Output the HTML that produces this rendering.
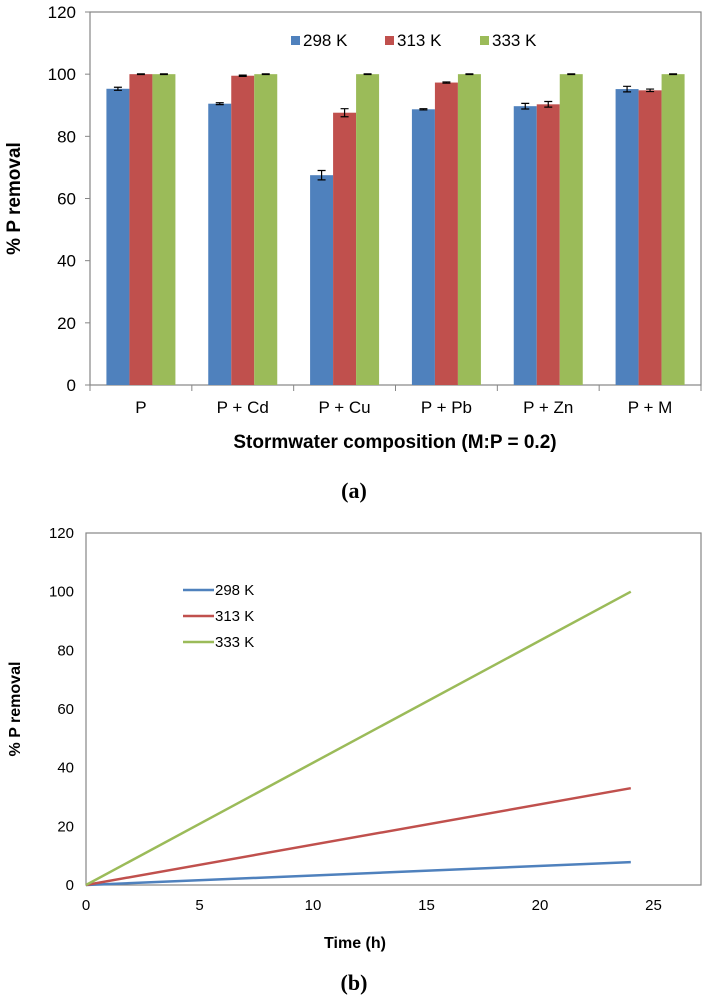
<!DOCTYPE html>
<html><head><meta charset="utf-8"><style>
body{margin:0;background:#fff;}
svg{display:block;font-family:"Liberation Sans",Arial,sans-serif;}
</style></head><body>
<svg id="s" width="708" height="1000" viewBox="0 0 708 1000">
<g id="ga"></g>
<g id="gb"></g>
<text x="354" y="498" text-anchor="middle" font-family="Liberation Serif" font-weight="bold" font-size="22">(a)</text>
<text x="354" y="990" text-anchor="middle" font-family="Liberation Serif" font-weight="bold" font-size="22">(b)</text>
</svg>
<script>
const categories=["P","P + Cd","P + Cu","P + Pb","P + Zn","P + M"];
const seriesNames=["298 K","313 K","333 K"];
const v298=[95.3,90.5,67.5,88.7,89.7,95.2];
const v313=[100,99.5,87.6,97.3,90.3,94.8];
const v333=[100,100,100,100,100,100];
const e298=[0.5,0.3,1.5,0.2,0.9,0.9];
const e313=[0.1,0.2,1.3,0.2,0.9,0.4];
const e333=[0.1,0.1,0.1,0.1,0.1,0.1];
const yTicksA=[0,20,40,60,80,100,120];
const colors=["#4f81bd","#c0504d","#9bbb59"];
const timeB=[0,24];
const b298=[0,7.8];
const b313=[0,33];
const b333=[0,100];
const xTicksB=[0,5,10,15,20,25];
const yTicksB=[0,20,40,60,80,100,120];

const NS="http://www.w3.org/2000/svg";
function mk(parent,tag,attrs,text){const e=document.createElementNS(NS,tag);for(const k in attrs)e.setAttribute(k,attrs[k]);if(text!==undefined)e.textContent=text;parent.appendChild(e);return e;}

// Chart A
const ga=document.getElementById('ga');
const aL=90,aR=701,aT=12,aB=385;
const yA=v=>aB-(v/120)*(aB-aT);
const cw=(aR-aL)/categories.length;
let r=mk(ga,'rect',{x:aL,y:aT,width:aR-aL,height:aB-aT,fill:'none',stroke:'#868686','stroke-width':1.2});

yTicksA.forEach(t=>{
 let l=mk(ga,'line',{x1:aL-5,x2:aL,y1:yA(t),y2:yA(t),stroke:'#868686'});
 
 let tx=mk(ga,'text',{x:aL-14,y:yA(t)+6,'text-anchor':'end','font-size':17},t);
 
});
for(let i=0;i<=categories.length;i++){
 let l=mk(ga,'line',{x1:aL+i*cw,x2:aL+i*cw,y1:aB,y2:aB+6,stroke:'#868686'});
 
}
const allV=[v298,v313,v333],allE=[e298,e313,e333];
const bw=23;
categories.forEach((c,i)=>{
 const cx=aL+cw*(i+0.5);
 allV.forEach((vs,s)=>{
  const x=cx-1.5*bw+s*bw;
  let b=mk(ga,'rect',{x:x,y:yA(vs[i]),width:bw,height:aB-yA(vs[i]),fill:colors[s]});
  
  const e=allE[s][i],mx=x+bw/2;
  let eb=mk(ga,'path',{d:`M${mx-4},${yA(vs[i]+e)}H${mx+4}M${mx},${yA(vs[i]+e)}V${yA(vs[i]-e)}M${mx-4},${yA(vs[i]-e)}H${mx+4}`,stroke:'#000','stroke-width':1.2,fill:'none'});
  
 });
 let t=mk(ga,'text',{x:cx,y:aB+28,'text-anchor':'middle','font-size':17},c);
 
});
seriesNames.forEach((n,s)=>{
 const lx=[291,385,480][s];
 let sq=mk(ga,'rect',{x:lx,y:36,width:9,height:9,fill:colors[s]});
 
 let t=mk(ga,'text',{x:lx+12,y:46,'font-size':17},n);
 
});
let ta=mk(ga,'text',{x:395,y:448,'text-anchor':'middle','font-size':19,'font-weight':'bold'},'Stormwater composition (M:P = 0.2)');

let tya=mk(ga,'text',{x:0,y:0,'text-anchor':'middle','font-size':19,'font-weight':'bold',transform:`translate(20,${(aT+aB)/2}) rotate(-90)`},'% P removal');


// Chart B
const gb=document.getElementById('gb');
const bL=86,bR=701,bT=533,bB=885;
const xB=v=>bL+v*22.7;
const yB=v=>bB-(v/120)*(bB-bT);
let rb=mk(gb,'rect',{x:bL,y:bT,width:bR-bL,height:bB-bT,fill:'none',stroke:'#868686','stroke-width':1.2});

yTicksB.forEach(t=>{
 let tx=mk(gb,'text',{x:bL-12,y:yB(t)+5,'text-anchor':'end','font-size':15},t);
 
});
xTicksB.forEach(t=>{
 let tx=mk(gb,'text',{x:xB(t),y:bB+25,'text-anchor':'middle','font-size':15},t);
 
});
[b298,b313,b333].forEach((vs,s)=>{
 const d=timeB.map((t,i)=>(i?'L':'M')+xB(t)+','+yB(vs[i])).join('');
 let p=mk(gb,'path',{d:d,stroke:colors[s],'stroke-width':2.5,fill:'none'});
 
 const ly=590+s*26;
 let ll=mk(gb,'line',{x1:183,x2:214,y1:ly,y2:ly,stroke:colors[s],'stroke-width':2.5});
 
 let lt=mk(gb,'text',{x:215,y:ly+5,'font-size':15},seriesNames[s]);
 
});
let tb=mk(gb,'text',{x:355,y:948,'text-anchor':'middle','font-size':16,'font-weight':'bold'},'Time (h)');

let tyb=mk(gb,'text',{x:0,y:0,'text-anchor':'middle','font-size':16,'font-weight':'bold',transform:`translate(20,${(bT+bB)/2}) rotate(-90)`},'% P removal');

</script>
</body></html>
